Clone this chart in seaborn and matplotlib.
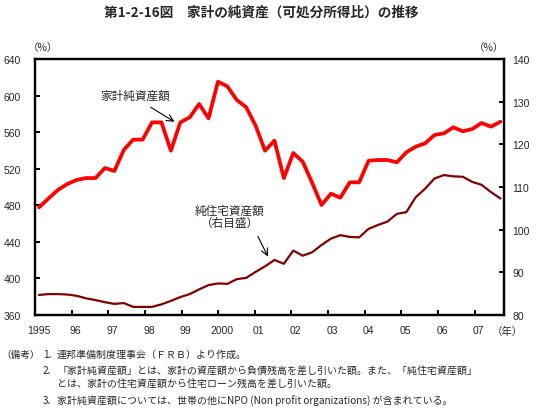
import numpy as np
import pandas as pd
import matplotlib
matplotlib.use("Agg")
import matplotlib.pyplot as plt
import seaborn as sns
from matplotlib.transforms import ScaledTranslation

# ---- data (quarterly) ----
quarter_index = np.arange(50)
year_pos = 1995.11 + 0.257 * quarter_index

net_worth = [477.8, 487.4, 496.7, 503.3, 507.7, 509.8, 509.8, 520.8, 517.5, 540.5,
             551.8, 551.8, 570.7, 570.7, 539.7, 570.7, 576.2, 590.8, 575.1, 615.2,
             610.1, 595.2, 587.2, 567.1, 539.7, 550.7, 509.8, 537.2, 527.7, 504.7,
             480.3, 492.7, 488.3, 505.1, 505.1, 528.8, 529.5, 529.5, 527.0, 537.9,
             544.1, 547.8, 556.9, 558.7, 565.3, 560.9, 563.4, 570.0, 566.0, 571.4]

housing = [84.7, 84.9, 84.9, 84.8, 84.5, 83.9, 83.5, 83.0, 82.6, 82.8,
           81.9, 81.9, 81.9, 82.5, 83.3, 84.2, 84.9, 86.0, 87.0, 87.4,
           87.3, 88.4, 88.7, 90.1, 91.4, 92.9, 92.0, 95.1, 93.9, 94.7,
           96.4, 97.9, 98.7, 98.3, 98.2, 100.2, 101.1, 101.9, 103.7, 104.1,
           107.6, 109.6, 112.0, 112.8, 112.5, 112.4, 111.2, 110.5, 108.8, 107.3]

year_ticks = list(range(1995, 2008))
year_labels = ["1995", "96", "97", "98", "99", "2000", "01", "02", "03",
               "04", "05", "06", "07"]
left_ticks = list(range(360, 641, 40))
right_ticks = list(range(80, 141, 10))

title = "第1-2-16図　家計の純資産（可処分所得比）の推移"
label_nw = "家計純資産額"
label_hs = "純住宅資産額"
label_hs2 = "（右目盛）"
notes = [
    "（備考）",
    "1.", "連邦準備制度理事会（ＦＲＢ）より作成。",
    "2.", "「家計純資産額」とは、家計の資産額から負債残高を差し引いた額。また、「純住宅資産額」",
    "とは、家計の住宅資産額から住宅ローン残高を差し引いた額。",
    "3.", "家計純資産額については、世帯の他にNPO (Non profit organizations) が含まれている。",
]

# ---- style ----
sns.set_theme(style="ticks")
plt.rcParams['font.family'] = ['Liberation Sans', 'Noto Sans CJK JP', 'DejaVu Sans']
cjk = ['Noto Sans CJK JP', 'DejaVu Sans']

W, H = 536, 410
fig = plt.figure(figsize=(W / 100, H / 100), dpi=100)
ax = fig.add_axes([35 / W, 1 - 316 / H, 469 / W, 256 / H])
ax2 = ax.twinx()

df = pd.DataFrame({"x": year_pos, "nw": net_worth, "hs": housing})
sns.lineplot(data=df, x="x", y="nw", ax=ax, color="#ff0000", lw=2.7)
sns.lineplot(data=df, x="x", y="hs", ax=ax2, color="#800000", lw=1.6)

ax.set_xlim(1995, 2007.8)
ax.set_ylim(360, 640)
ax2.set_ylim(80, 140)
ax.set_xlabel("")
ax.set_ylabel("")
ax2.set_ylabel("")

ax.set_xticks(year_ticks)
ax.set_xticklabels(year_labels)
ax.set_yticks(left_ticks)
ax2.set_yticks(right_ticks)

for a in (ax, ax2):
    for s in a.spines.values():
        s.set_color("black")
        s.set_linewidth(1.6)

ax.tick_params(axis='x', direction='in', length=3.5, width=1.4, color='black',
               labelsize=7.5, pad=7, bottom=True, top=False)
ax.tick_params(axis='y', direction='in', length=3.5, width=1.4, color='black',
               labelsize=7.5, pad=10, left=True, right=False)
ax2.tick_params(axis='y', direction='in', length=3.5, width=1.4, color='black',
                labelsize=7.5, pad=6, right=True, left=False)

off = ScaledTranslation(4 / 100, 0, fig.dpi_scale_trans)
for lbl in ax.get_xticklabels():
    lbl.set_transform(lbl.get_transform() + off)

# ---- annotations ----
ax.text(1997.73, 600.6, label_nw, ha='center', va='center', fontsize=8.4, family=cjk)
ax.annotate("", xy=(1998.87, 569.7), xytext=(1998.09, 588.9),
            arrowprops=dict(arrowstyle="->", color="black", lw=0.8))
ax.text(2000.32, 474.1, label_hs, ha='center', va='center', fontsize=8.4, family=cjk)
ax.text(2000.32, 461.4, label_hs2, ha='center', va='center', fontsize=8.4, family=cjk)
ax.annotate("", xy=(2001.39, 421.3), xytext=(2001.05, 448.6),
            arrowprops=dict(arrowstyle="->", color="black", lw=0.8))

# ---- figure texts ----
fig.text(261 / W, 1 - 13 / H, title, ha='center', va='center', fontsize=9.8,
         fontweight='bold', family=cjk)
fig.text(43 / W, 1 - 48 / H, "（%）", ha='center', va='center', fontsize=7.5, family=cjk)
fig.text(489 / W, 1 - 48 / H, "（%）", ha='center', va='center', fontsize=7.5, family=cjk)
fig.text(507 / W, 1 - 332 / H, "（年）", ha='center', va='center', fontsize=7.5, family=cjk)

ns = 7.2
fig.text(1 / W, 1 - 355 / H, notes[0], ha='left', va='center', fontsize=6.9, family=cjk)
fig.text(43 / W, 1 - 355 / H, notes[1], ha='left', va='center', fontsize=ns, family=cjk)
fig.text(57 / W, 1 - 355 / H, notes[2], ha='left', va='center', fontsize=ns, family=cjk)
fig.text(43 / W, 1 - 371.5 / H, notes[3], ha='left', va='center', fontsize=ns, family=cjk)
fig.text(57 / W, 1 - 371.5 / H, notes[4], ha='left', va='center', fontsize=ns, family=cjk)
fig.text(57 / W, 1 - 384.5 / H, notes[5], ha='left', va='center', fontsize=ns, family=cjk)
fig.text(43 / W, 1 - 401.5 / H, notes[6], ha='left', va='center', fontsize=ns, family=cjk)
fig.text(57 / W, 1 - 401.5 / H, notes[7], ha='left', va='center', fontsize=ns, family=cjk)

fig.savefig("out.png", dpi=100)
